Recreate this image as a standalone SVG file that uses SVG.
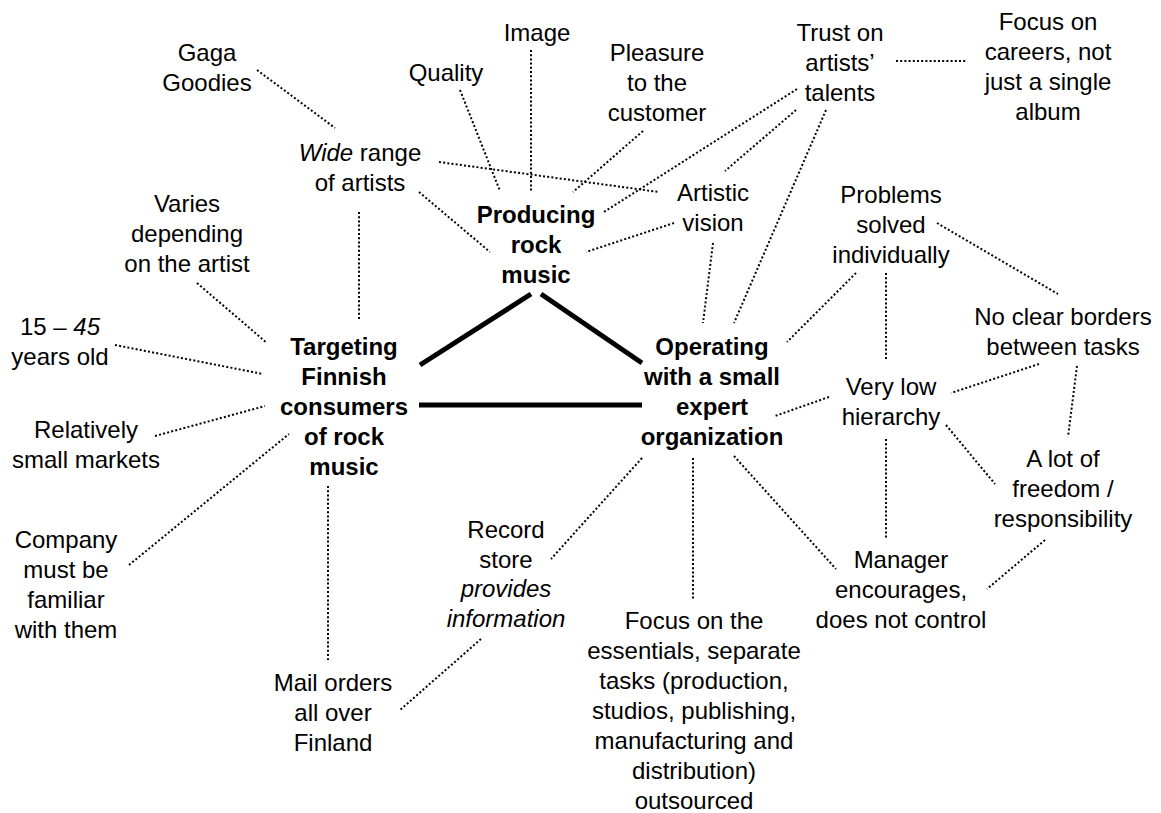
<svg xmlns="http://www.w3.org/2000/svg" width="1161" height="813" viewBox="0 0 1161 813">
  <style>
    text { font-family: "Liberation Sans", Arial, Helvetica, sans-serif; font-size: 24px; fill: #000; text-anchor: middle; }
    .core text { font-weight: bold; }
    .it { font-style: italic; }
    .dot { stroke: #000; stroke-width: 2; stroke-dasharray: 2 2.2; fill: none; }
    .main { stroke: #000; stroke-width: 5; fill: none; }
  </style>
  <rect width="1161" height="813" fill="#fff"/>

  <!-- connectors -->
  <g id="connectors">
    <!-- triangle between the three core themes -->
    <line class="main" x1="531" y1="294" x2="420" y2="365"/>
    <line class="main" x1="541" y1="294" x2="642" y2="363"/>
    <line class="main" x1="419" y1="405" x2="642" y2="405"/>

    <!-- producing rock music -->
    <line class="dot" x1="460" y1="90" x2="500" y2="191"/>
    <line class="dot" x1="531" y1="50" x2="531" y2="191"/>
    <line class="dot" x1="643" y1="131" x2="573" y2="192"/>
    <line class="dot" x1="419" y1="192" x2="490" y2="252"/>
    <line class="dot" x1="797" y1="89" x2="604" y2="212"/>
    <line class="dot" x1="674" y1="223" x2="586" y2="252"/>

    <!-- wide range of artists -->
    <line class="dot" x1="257" y1="70" x2="335" y2="128"/>
    <line class="dot" x1="439" y1="162" x2="659" y2="192"/>
    <line class="dot" x1="359" y1="212" x2="359" y2="321"/>

    <!-- artistic vision / trust on artists' talents -->
    <line class="dot" x1="796" y1="110" x2="725" y2="171"/>
    <line class="dot" x1="896" y1="61" x2="967" y2="61"/>
    <line class="dot" x1="713" y1="243" x2="703" y2="323"/>
    <line class="dot" x1="826" y1="110" x2="734" y2="323"/>

    <!-- targeting finnish consumers -->
    <line class="dot" x1="197" y1="283" x2="267" y2="343"/>
    <line class="dot" x1="115" y1="345" x2="263" y2="374"/>
    <line class="dot" x1="155" y1="436" x2="265" y2="406"/>
    <line class="dot" x1="129" y1="565" x2="289" y2="434"/>
    <line class="dot" x1="328" y1="486" x2="328" y2="660"/>
    <line class="dot" x1="481" y1="639" x2="400" y2="710"/>

    <!-- operating with a small expert organization -->
    <line class="dot" x1="642" y1="458" x2="551" y2="559"/>
    <line class="dot" x1="693" y1="458" x2="693" y2="599"/>
    <line class="dot" x1="734" y1="456" x2="836" y2="569"/>
    <line class="dot" x1="856" y1="273" x2="787" y2="342"/>
    <line class="dot" x1="829" y1="397" x2="775" y2="416"/>

    <!-- organisation details -->
    <line class="dot" x1="886" y1="273" x2="886" y2="360"/>
    <line class="dot" x1="937" y1="223" x2="1058" y2="294"/>
    <line class="dot" x1="1039" y1="364" x2="951" y2="393"/>
    <line class="dot" x1="1077" y1="366" x2="1068" y2="437"/>
    <line class="dot" x1="946" y1="425" x2="995" y2="484"/>
    <line class="dot" x1="886" y1="439" x2="886" y2="538"/>
    <line class="dot" x1="1045" y1="540" x2="987" y2="589"/>
  </g>

  <!-- core themes -->
  <g class="core">
    <g id="producing">
      <text x="536" y="223">Producing</text>
      <text x="536" y="253">rock</text>
      <text x="536" y="283">music</text>
    </g>
    <g id="targeting">
      <text x="344" y="355">Targeting</text>
      <text x="344" y="385">Finnish</text>
      <text x="344" y="415">consumers</text>
      <text x="344" y="445">of rock</text>
      <text x="344" y="475">music</text>
    </g>
    <g id="operating">
      <text x="712" y="355">Operating</text>
      <text x="712" y="385">with a small</text>
      <text x="712" y="415">expert</text>
      <text x="712" y="445">organization</text>
    </g>
  </g>

  <!-- detail nodes -->
  <g id="gaga">
    <text x="207" y="61">Gaga</text>
    <text x="207" y="91">Goodies</text>
  </g>
  <g id="quality"><text x="446" y="81">Quality</text></g>
  <g id="image"><text x="537" y="41">Image</text></g>
  <g id="pleasure">
    <text x="657" y="61">Pleasure</text>
    <text x="657" y="91">to the</text>
    <text x="657" y="121">customer</text>
  </g>
  <g id="trust">
    <text x="840" y="41">Trust on</text>
    <text x="840" y="71">artists’</text>
    <text x="840" y="101">talents</text>
  </g>
  <g id="careers">
    <text x="1048" y="30">Focus on</text>
    <text x="1048" y="60">careers, not</text>
    <text x="1048" y="90">just a single</text>
    <text x="1048" y="120">album</text>
  </g>
  <g id="wide-range">
    <text x="360" y="161"><tspan class="it">Wide</tspan> range</text>
    <text x="360" y="191">of artists</text>
  </g>
  <g id="artistic-vision">
    <text x="713" y="201">Artistic</text>
    <text x="713" y="231">vision</text>
  </g>
  <g id="problems">
    <text x="891" y="203">Problems</text>
    <text x="891" y="233">solved</text>
    <text x="891" y="263">individually</text>
  </g>
  <g id="varies">
    <text x="187" y="212">Varies</text>
    <text x="187" y="242">depending</text>
    <text x="187" y="272">on the artist</text>
  </g>
  <g id="age">
    <text x="60" y="335">15 – <tspan class="it">45</tspan></text>
    <text x="60" y="365">years old</text>
  </g>
  <g id="markets">
    <text x="86" y="438">Relatively</text>
    <text x="86" y="468">small markets</text>
  </g>
  <g id="familiar">
    <text x="66" y="548">Company</text>
    <text x="66" y="578">must be</text>
    <text x="66" y="608">familiar</text>
    <text x="66" y="638">with them</text>
  </g>
  <g id="mail-orders">
    <text x="333" y="691">Mail orders</text>
    <text x="333" y="721">all over</text>
    <text x="333" y="751">Finland</text>
  </g>
  <g id="record-store">
    <text x="506" y="538">Record</text>
    <text x="506" y="568">store</text>
    <text x="506" y="597" class="it">provides</text>
    <text x="506" y="627" class="it">information</text>
  </g>
  <g id="essentials">
    <text x="694" y="629">Focus on the</text>
    <text x="694" y="659">essentials, separate</text>
    <text x="694" y="689">tasks (production,</text>
    <text x="694" y="719">studios, publishing,</text>
    <text x="694" y="749">manufacturing and</text>
    <text x="694" y="779">distribution)</text>
    <text x="694" y="809">outsourced</text>
  </g>
  <g id="borders">
    <text x="1063" y="325">No clear borders</text>
    <text x="1063" y="355">between tasks</text>
  </g>
  <g id="hierarchy">
    <text x="891" y="395">Very low</text>
    <text x="891" y="425">hierarchy</text>
  </g>
  <g id="freedom">
    <text x="1063" y="467">A lot of</text>
    <text x="1063" y="497">freedom /</text>
    <text x="1063" y="527">responsibility</text>
  </g>
  <g id="manager">
    <text x="901" y="568">Manager</text>
    <text x="901" y="598">encourages,</text>
    <text x="901" y="628">does not control</text>
  </g>
</svg>
